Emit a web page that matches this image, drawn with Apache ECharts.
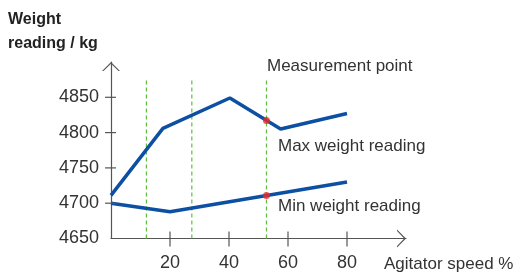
<!DOCTYPE html>
<html>
<head>
<meta charset="utf-8">
<script src="https://cdn.jsdelivr.net/npm/echarts@6/dist/echarts.min.js"></script>
<style>
html,body{margin:0;padding:0;background:#fff;}
#chart{width:516px;height:279px;}
</style>
</head>
<body>
<div id="chart"></div>
<script>
// ---- data ----
var maxWeight = [[0, 4711], [17.6, 4806], [40.3, 4849], [57.5, 4805], [80, 4827]];
var minWeight = [[0, 4700], [20, 4688], [80, 4730]];
var measurementPoints = [[52.7, 4817], [52.7, 4711]];
var guideLinesX = [12.0, 27.4, 52.7];
var guideTop = 4877;
var xTicks = [20, 40, 60, 80];
var yTicks = [4700, 4750, 4800, 4850];
var yLabels = [4650, 4700, 4750, 4800, 4850];
var xMin = 0, xMax = 100, yMin = 4650, yMax = 4900;

var axisColor = '#555555';
var textColor = '#333333';
var blue = '#0d4fa3';
var green = '#5fbf3a';
var red = '#ee2a2a';
var font = '"Liberation Sans", Arial, sans-serif';
var chevron = 'path://M0,9 L9,0 L18,9 L16.5,9 L9,1.8 L1.5,9 Z';

function plain(v) { return String(v); }

// tick marks crossing the axes, placed through the axis scales
var tickData = xTicks.map(function (v) { return [v, yMin, 0]; })
  .concat(yTicks.map(function (v) { return [xMin, v, 1]; }));

var guideSeries = guideLinesX.map(function (x) {
  return {
    type: 'line', showSymbol: false, silent: true, z: 1,
    data: [[x, yMin], [x, guideTop]],
    lineStyle: {color: green, width: 1.2, type: [4, 3]}
  };
});

var chart = echarts.init(document.getElementById('chart'), null, {renderer: 'canvas'});
chart.setOption({
  animation: false,
  grid: {left: 111, right: 110, top: 62, bottom: 40.5},
  xAxis: {
    type: 'value', min: xMin, max: xMax, splitLine: {show: false},
    axisLine: {show: true, onZero: false, lineStyle: {color: axisColor, width: 1.2},
      symbol: ['none', chevron], symbolSize: [18, 9], symbolOffset: [0, -4.5]},
    axisTick: {show: false},
    axisLabel: {show: true, customValues: xTicks, formatter: plain, margin: 16, fontSize: 18, color: textColor, fontFamily: font}
  },
  yAxis: {
    type: 'value', min: yMin, max: yMax, splitLine: {show: false},
    axisLine: {show: true, onZero: false, lineStyle: {color: axisColor, width: 1.2},
      symbol: ['none', chevron], symbolSize: [18, 9], symbolOffset: [0, -4.5]},
    axisTick: {show: false},
    axisLabel: {show: true, customValues: yLabels, formatter: plain, margin: 12, fontSize: 18, color: textColor, fontFamily: font}
  },
  series: guideSeries.concat([{
    name: 'Max weight reading', type: 'line', data: maxWeight, showSymbol: false, z: 3,
    lineStyle: {color: blue, width: 3.5}
  }, {
    name: 'Min weight reading', type: 'line', data: minWeight, showSymbol: false, z: 3,
    lineStyle: {color: blue, width: 3.5}
  }, {
    name: 'Measurement', type: 'scatter', data: measurementPoints, symbolSize: 7, z: 4,
    itemStyle: {color: red}
  }, {
    name: 'ticks', type: 'custom', silent: true, z: 5, data: tickData,
    renderItem: function (params, api) {
      var p = api.coord([api.value(0), api.value(1)]);
      var shape = api.value(2) === 0
        ? {x1: p[0], y1: p[1] - 7, x2: p[0], y2: p[1] + 8}
        : {x1: p[0] - 6, y1: p[1], x2: p[0] + 5, y2: p[1]};
      return {type: 'line', shape: shape, style: {stroke: axisColor, lineWidth: 1.2}};
    }
  }]),
  graphic: [
    {type: 'text', left: 8, top: 12, style: {text: 'Weight', font: 'bold 16px ' + font, fill: '#222'}},
    {type: 'text', left: 8, top: 36, style: {text: 'reading / kg', font: 'bold 16px ' + font, fill: '#222'}},
    {type: 'text', left: 267, top: 58, style: {text: 'Measurement point', font: '17px ' + font, fill: textColor}},
    {type: 'text', left: 278, top: 138, style: {text: 'Max weight reading', font: '17px ' + font, fill: textColor}},
    {type: 'text', left: 278, top: 198, style: {text: 'Min weight reading', font: '17px ' + font, fill: textColor}},
    {type: 'text', left: 384, top: 256, style: {text: 'Agitator speed %', font: '17px ' + font, fill: textColor}}
  ]
});
</script>
</body>
</html>
